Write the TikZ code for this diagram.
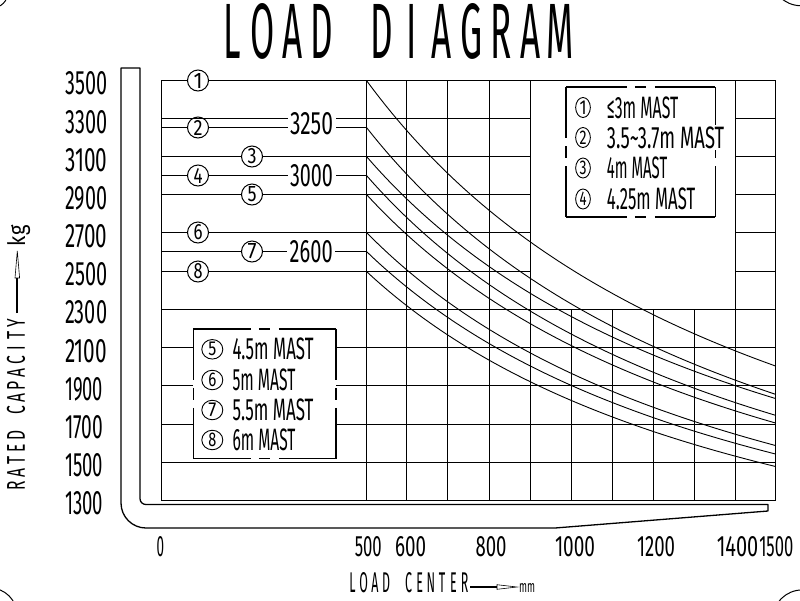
\documentclass[tikz,border=0pt]{standalone}
\usepackage{fontspec}
\usepackage{graphicx}
\usetikzlibrary{shapes.geometric}
\IfFontExistsTF{FiraSans-ExtraLight.otf}
 {\newfontfamily\cadfont{FiraSans-ExtraLight.otf}}
 {\IfFontExistsTF{FiraSans-Light.otf}
   {\newfontfamily\cadfont{FiraSans-Light.otf}}
   {\newfontfamily\cadfont{Fira Sans}}}
\ExplSyntaxOn
\NewDocumentCommand\spaced{mm}{\str_map_inline:nn{#2}{\makebox[#1][c]{##1}}}
\ExplSyntaxOff
\newcommand\rs[3]{\resizebox{#1pt}{#2pt}{\cadfont #3}}

\begin{document}
\begin{tikzpicture}[x=1pt,y=-1pt,
  gridline/.style={line width=1.4pt},
  curveline/.style={line width=0.9pt},
  framel/.style={line width=1.3pt, line join=round},
  cnum/.style={circle, draw, fill=white, line width=1pt, minimum size=21pt, inner sep=0pt},
  lnumA/.style={ellipse, draw, line width=0.9pt, minimum width=14.7pt, minimum height=20pt, inner sep=0pt},
  lnumB/.style={ellipse, draw, line width=0.9pt, minimum width=21pt, minimum height=19.5pt, inner sep=0pt},
  lab/.style={inner sep=0pt},
  cut/.style={fill=white, inner sep=2.5pt},
  legbox/.style={line width=1.2pt},
  arrowbody/.style={line width=2.2pt},
  arrowhead/.style={line width=0.6pt, line join=miter},
]
\useasboundingbox (0,0) rectangle (800,600);

% corner arcs of the sheet
\begin{scope}
  \clip (0,0) rectangle (800,600);
  \draw[line width=1pt] (-8,-8) circle[radius=16];
  \draw[line width=1pt] (800.9,-24.3) circle[radius=30];
  \draw[line width=1pt] (-10,615) circle[radius=27];
  \draw[line width=1pt] (802.4,619.9) circle[radius=30];
\end{scope}

% title
\node[lab, anchor=base west] (title) at (217.6,58) {\rs{357.6}{55}{\spaced{0.85em}{LOAD DIAGRAM}}};

% L-shaped frame
\draw[framel] (121,68) -- (140,68) -- (140,498.7)
  .. controls (140,502) and (142.7,504.5) .. (146,504.5)
  -- (768,504.5) -- (768,511) -- (555,528) -- (146,528)
  .. controls (132.2,528) and (121,516.8) .. (121,503) -- cycle;

% grid
\draw[gridline] (161.5,80.5) rectangle (775.5,500.5);
\foreach \y in {118.5,156.5,194.5,232.5,271.5} {
  \draw[gridline] (161.5,\y) -- (530.5,\y);
  \draw[gridline] (735.5,\y) -- (775.5,\y);
}
\foreach \y in {309.5,347.5,385.5,424.5,462.5}
  \draw[gridline] (161.5,\y) -- (775.5,\y);
\foreach \y in {127.5,175.5,251.5}
  \draw[gridline] (161.5,\y) -- (366.5,\y);
\foreach \x in {366.5,406.5,447.5,489.5,530.5,735.5}
  \draw[gridline] (\x,80.5) -- (\x,500.5);
\foreach \x in {571.5,612.5,653.5,694.5}
  \draw[gridline] (\x,309.5) -- (\x,500.5);

% load curves
\foreach \ys/\ye in {80.5/366, 127.5/394.3, 156.5/398.5, 175.5/415.3, 194.5/423, 232.5/445.5, 251.5/454, 271.5/466.5}
  \draw[curveline] plot[domain=0:1000, samples=60, smooth]
    ({366.5+0.409*\x}, {\ys+(\ye-\ys)*(2.056*\x/(\x+1056))});

% circled mast numbers on the capacity lines
\node[cnum] (c1) at (198,80.5) {\rs{9}{15}{1}};
\node[cnum] (c2) at (198,127.5) {\rs{9}{15}{2}};
\node[cnum] (c3) at (252,156.5) {\rs{9}{15}{3}};
\node[cnum] (c4) at (198,175.5) {\rs{9}{15}{4}};
\node[cnum] (c5) at (252,194.5) {\rs{9}{15}{5}};
\node[cnum] (c6) at (198,232.5) {\rs{9}{15}{6}};
\node[cnum] (c7) at (252,251.5) {\rs{9}{15}{7}};
\node[cnum] (c8) at (198,271.5) {\rs{9}{15}{8}};
\draw[gridline] (161.5,118.5) -- (366.5,118.5);

% capacity values on the lines
\node[cut] (t3250) at (311.5,123.5) {\rs{43}{22}{3250}};
\node[cut] (t3000) at (311.5,175.3) {\rs{43}{22}{3000}};
\node[cut] (t2600) at (311.2,251.7) {\rs{43}{22}{2600}};

% legend 1
\draw[legbox] (566,87) -- (626.55,87) (634.85,87) -- (646.45,87) (654.75,87) -- (715.3,87);
\draw[legbox] (566,217) -- (626.55,217) (634.85,217) -- (646.45,217) (654.75,217) -- (715.3,217);
\draw[legbox] (566,87) -- (566,137.9) (566,146.2) -- (566,157.8) (566,166.1) -- (566,217);
\draw[legbox] (715.3,87) -- (715.3,137.9) (715.3,146.2) -- (715.3,157.8) (715.3,166.1) -- (715.3,217);
\node[lnumA] (l1) at (583,107.5) {\rs{7}{13.5}{1}};
\node[lab, anchor=west] (lt1) at (606.7,107.5) {\rs{71.3}{21.7}{≤3m MAST}};
\node[lnumA] (l2) at (583,137.5) {\rs{7}{13.5}{2}};
\node[lab, anchor=west, fill=white, inner sep=1pt] (lt2) at (605.7,137.5) {\rs{117.3}{21.7}{3.5\textasciitilde 3.7m MAST}};
\node[lnumA] (l3) at (583,168) {\rs{7}{13.5}{3}};
\node[lab, anchor=west] (lt3) at (606.7,168) {\rs{60.3}{21.7}{4m MAST}};
\node[lnumA] (l4) at (583,199) {\rs{7}{13.5}{4}};
\node[lab, anchor=west] (lt4) at (606.7,199) {\rs{88.3}{21.7}{4.25m MAST}};

% legend 2
\fill[white] (193.3,329) rectangle (336,458.7);
\draw[legbox] (193.3,329) -- (250.55,329) (258.85,329) -- (270.45,329) (278.75,329) -- (336,329);
\draw[legbox] (193.3,458.7) -- (250.55,458.7) (258.85,458.7) -- (270.45,458.7) (278.75,458.7) -- (336,458.7);
\draw[legbox] (193.3,329) -- (193.3,379.75) (193.3,388.05) -- (193.3,399.65) (193.3,407.95) -- (193.3,458.7);
\draw[legbox] (336,329) -- (336,379.75) (336,388.05) -- (336,399.65) (336,407.95) -- (336,458.7);
\node[lnumB] (l5) at (212.3,349.3) {\rs{8}{13.5}{5}};
\node[lab, anchor=west] (lt5) at (232.3,349.3) {\rs{81}{21.7}{4.5m MAST}};
\node[lnumB] (l6) at (212.3,380) {\rs{8}{13.5}{6}};
\node[lab, anchor=west] (lt6) at (232.3,380) {\rs{63}{21.7}{5m MAST}};
\node[lnumB] (l7) at (212.3,410) {\rs{8}{13.5}{7}};
\node[lab, anchor=west] (lt7) at (232.3,410) {\rs{81}{21.7}{5.5m MAST}};
\node[lnumB] (l8) at (212.3,440) {\rs{8}{13.5}{8}};
\node[lab, anchor=west] (lt8) at (232.3,440) {\rs{63}{21.7}{6m MAST}};

% y axis values
\foreach \v/\yy/\w in {3500/83.5/42, 3300/121.7/42, 3100/159.9/42, 2900/198/42, 2700/236.2/42, 2500/274.4/42, 2300/312.6/42, 2100/350.8/42, 1900/389/38, 1700/427.1/38, 1500/465.3/38, 1300/503.5/38}
  \node[lab, anchor=west] (y\v) at (65,\yy) {\rs{\w}{23}{\v}};

% x axis values
\foreach \v/\xx/\w in {0/160.3/7.5, 500/368.3/27, 600/410.5/31, 800/491/31, 1000/575/40, 1200/656/38, 1400/737.5/41.5, 1500/776.3/34}
  \node[lab] (x\v) at (\xx,546.7) {\rs{\w}{20}{\v}};

% y axis title
\node[lab, rotate=90, anchor=base west] (ytitle) at (25,492) {\rs{175}{18}{\spaced{0.8em}{RATED CAPACITY}}};
\coordinate (ya0) at (17.3,313);
\coordinate (ya1) at (17.3,278);
\draw[arrowbody] (ya0) -- (ya1);
\draw[arrowhead] (15,278) -- (17.3,251) -- (19.6,278) -- cycle;
\node[lab, rotate=90, anchor=base west] (yunit) at (25,248) {\rs{24}{18}{\spaced{0.6em}{kg}}};

% x axis title
\node[lab, anchor=base west] (xtitle) at (346.7,592) {\rs{123.3}{20}{\spaced{0.9em}{LOAD CENTER}}};
\coordinate (xa0) at (470,587);
\coordinate (xa1) at (497,587);
\draw[arrowbody] (xa0) -- (xa1);
\draw[arrowhead] (497,584.7) -- (517,587) -- (497,589.3) -- cycle;
\node[lab, anchor=base west] (xunit) at (519,592) {\rs{16}{9}{mm}};
\end{tikzpicture}
\end{document}
